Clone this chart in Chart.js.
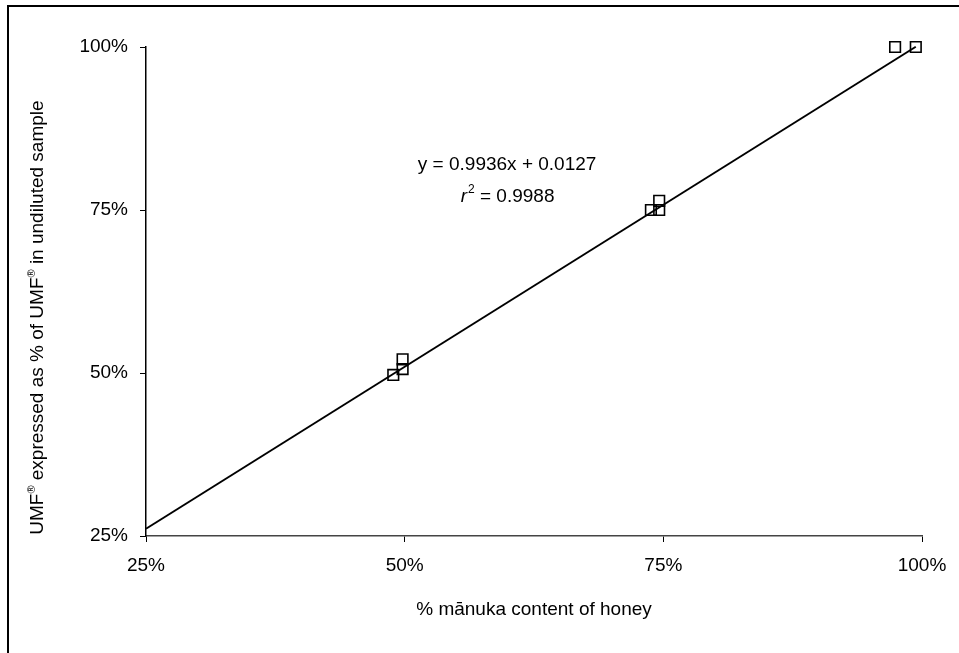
<!DOCTYPE html>
<html>
<head>
<meta charset="utf-8">
<script src="https://cdn.jsdelivr.net/npm/chart.js@4.4.0/dist/chart.umd.min.js"></script>
<style>body{margin:0;background:#fff}</style>
</head>
<body>
<canvas id="myChart" width="959" height="653"></canvas>
<script>
// values in percent
var manuka = [97.4, 99.4, 73.8, 74.6, 74.6, 48.9, 49.8, 49.8];
var umf = [100, 100, 75, 75, 76.4, 49.7, 50.6, 52.1];
var trendX = [25, 99.4];
var trendY = [26.11, 100.04];
var tickValues = [25, 50, 75, 100];
var equation = 'y = 0.9936x + 0.0127';
var rSquared = '0.9988';
// y title pieces: [text, superscript?]
var yTitle = [['UMF', false], ['®', true], [' expressed as % of UMF', false], ['®', true], [' in undiluted sample', false]];

var FONT = '"Liberation Sans", Arial, sans-serif';
Chart.defaults.font.family = FONT;
Chart.defaults.font.size = 19;
Chart.defaults.color = '#000';

var points = manuka.map(function(v, i){ return {x: v, y: umf[i]}; });
var line = trendX.map(function(v, i){ return {x: v, y: trendY[i]}; });

// frame, y title and regression text
var extras = {
  id: 'extras',
  afterDraw: function(chart){
    var ctx = chart.ctx;
    var xs = chart.scales.x, ys = chart.scales.y;
    ctx.save();
    ctx.strokeStyle = '#000';
    ctx.lineWidth = 2;
    ctx.strokeRect(8, 6, 2000, 2000);

    ctx.fillStyle = '#000';
    ctx.textBaseline = 'middle';
    ctx.textAlign = 'left';

    // rotated y title
    var total = 0;
    yTitle.forEach(function(p){
      ctx.font = (p[1] ? '11px ' : '19px ') + FONT;
      total += ctx.measureText(p[0]).width;
    });
    ctx.save();
    ctx.translate(38, ys.getPixelForValue(58.5));
    ctx.rotate(-Math.PI / 2);
    var px = -total / 2;
    yTitle.forEach(function(p){
      ctx.font = (p[1] ? '11px ' : '19px ') + FONT;
      ctx.fillText(p[0], px, p[1] ? -6 : 0);
      px += ctx.measureText(p[0]).width;
    });
    ctx.restore();

    var cx = xs.getPixelForValue(59.9);
    ctx.font = '19px ' + FONT;
    var w = ctx.measureText(equation).width;
    ctx.fillText(equation, cx - w / 2, ys.getPixelForValue(82.0));

    var y2 = ys.getPixelForValue(77.0);
    ctx.font = 'italic 19px ' + FONT;
    var wr = ctx.measureText('r').width;
    ctx.font = '12px ' + FONT;
    var ws = ctx.measureText('2').width;
    ctx.font = '19px ' + FONT;
    var rest = ' = ' + rSquared;
    var wt = ctx.measureText(rest).width;
    var x0 = cx - (wr + ws + wt) / 2;
    ctx.font = 'italic 19px ' + FONT;
    ctx.fillText('r', x0, y2);
    ctx.font = '12px ' + FONT;
    ctx.fillText('2', x0 + wr + 1, y2 - 7);
    ctx.font = '19px ' + FONT;
    ctx.fillText(rest, x0 + wr + ws + 1, y2);
    ctx.restore();
  }
};

const ctx = document.getElementById('myChart').getContext('2d');
const myChart = new Chart(ctx, {
  type: 'scatter',
  data: {
    datasets: [{
      type: 'line',
      data: line,
      borderColor: '#000',
      borderWidth: 2,
      pointRadius: 0,
      fill: false,
      clip: 4,
      order: 2
    }, {
      data: points,
      pointStyle: 'rect',
      pointRadius: 7.5,
      pointHoverRadius: 7.5,
      pointBackgroundColor: 'rgba(255,255,255,0)',
      pointBorderColor: '#000',
      pointBorderWidth: 1.6,
      clip: false,
      order: 1
    }]
  },
  plugins: [extras],
  options: {
    responsive: false,
    animation: false,
    events: [],
    layout: { padding: { left: 0, right: 37, top: 47, bottom: 0 } },
    plugins: { legend: { display: false }, tooltip: { enabled: false } },
    scales: {
      x: {
        type: 'linear',
        min: 25, max: 100,
        afterBuildTicks: function(s){ s.ticks = tickValues.map(function(v){ return {value: v}; }); },
        afterFit: function(s){ s.height = 117; },
        ticks: { padding: 12, maxRotation: 0, callback: function(v){ return v + '%'; } },
        grid: { drawOnChartArea: false, drawTicks: true, tickLength: 6, color: '#000', lineWidth: 1 },
        border: { display: true, color: '#444', width: 1.5 },
        title: { display: true, text: '% mānuka content of honey', padding: { top: 0, bottom: 32 } }
      },
      y: {
        type: 'linear',
        min: 25, max: 100,
        afterBuildTicks: function(s){ s.ticks = tickValues.map(function(v){ return {value: v}; }); },
        afterFit: function(s){ s.width = 146; },
        ticks: { padding: 12, callback: function(v){ return v + '%'; } },
        grid: { drawOnChartArea: false, drawTicks: true, tickLength: 6, color: '#000', lineWidth: 1 },
        border: { display: true, color: '#000', width: 1.5 }
      }
    }
  }
});
</script>
</body>
</html>
